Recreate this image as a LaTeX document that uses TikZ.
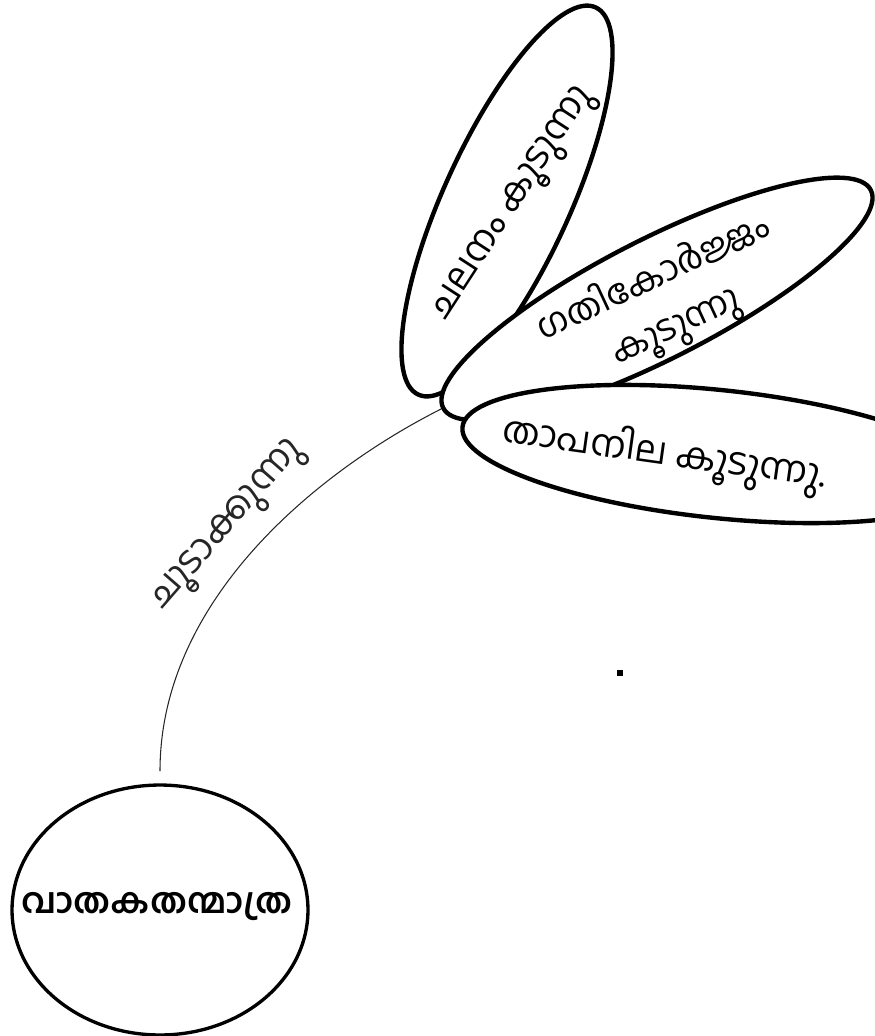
\documentclass[tikz,border=0pt]{standalone}
\usepackage{fontspec}
\newfontfamily\mlfont[Script=Malayalam]{Hind Kochi}
\usetikzlibrary{shapes.geometric,backgrounds}

\begin{document}
\begin{tikzpicture}[x=0.02cm, y=-0.02cm,
  petal/.style={ellipse, draw, line width=2.5pt, fill=white, inner sep=0pt},
  word/.style={font=\mlfont\fontsize{21}{30}\selectfont, align=center, inner sep=0pt},
  link/.style={line width=0.6pt, black!85},
]
  \useasboundingbox (0,0) rectangle (875,1036);

  % gas molecule
  \node[petal, line width=1.9pt, minimum width=5.92cm, minimum height=5cm] (gas) at (160,910) {};
  \node[word, font=\mlfont\bfseries\fontsize{20}{30}\selectfont] (gaslbl) at (157,907) {വാതകതന്മാത്ര};

  % the three results
  \node[petal, minimum width=8.52cm, minimum height=2.52cm, rotate=65.4] (move) at (507,201) {};
  \node[petal, minimum width=9.6cm, minimum height=2.4cm, rotate=27] (kin) at (657,299) {};
  \node[petal, minimum width=10.28cm, minimum height=2.56cm, rotate=-6] (heat) at (718,454) {};

  \node[word, rotate=57] (movelbl) at (515,205) {ചലനം കൂടുന്നു};
  \node[word, rotate=25, font=\mlfont\fontsize{20}{30}\selectfont] (kinlbl) at (665,303) {ഗതികോർജ്ജം\\കൂടുന്നു};
  \node[word, rotate=-8] (heatlbl) at (664,455) {താപനില കൂടുന്നു.};

  % heating
  \begin{scope}[on background layer]
    \draw[link] ([yshift=7pt]gas.north) .. controls +(0,-172) and +(-123,62) .. (kin.west)
      node[word, pos=0.5, rotate=49, yshift=19pt] (heatup) {ചൂടാക്കുന്നു};
  \end{scope}

  \node[fill, inner sep=0pt, minimum size=3pt] (dot) at (620,673) {};
\end{tikzpicture}
\end{document}
